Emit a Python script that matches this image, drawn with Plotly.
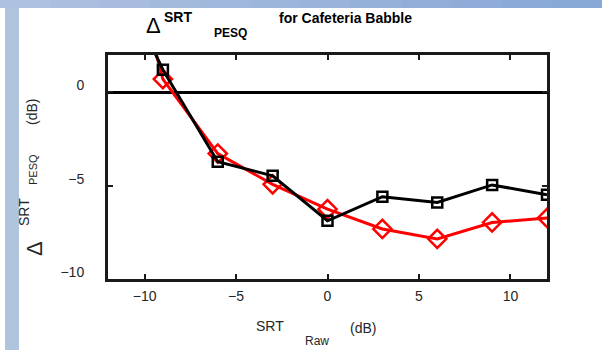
import plotly.graph_objects as go

# ---- data ----
srt_raw = [-12, -9, -6, -3, 0, 3, 6, 9, 12]
delta_black = [7.4, 1.21, -3.72, -4.47, -6.88, -5.59, -5.90, -4.96, -5.49]
delta_red = [11.8, 0.71, -3.28, -4.93, -6.26, -7.32, -7.85, -6.97, -6.73]
x_ticks = [-10, -5, 0, 5, 10]
y_ticks = [-10, -5, 0]

W, H = 602, 350
L, R, T, B = 108, 547, 55, 279  # plot area in pixels


def px(x, y):
    return (x - L) / (R - L), (B - y) / (B - T)


fig = go.Figure()
fig.add_trace(go.Scatter(
    x=srt_raw, y=delta_red, mode="lines+markers",
    line=dict(color="#ff0000", width=3),
    marker=dict(symbol="diamond-open", size=14, color="#ff0000", line=dict(width=2.5)),
    showlegend=False))
fig.add_trace(go.Scatter(
    x=srt_raw, y=delta_black, mode="lines+markers",
    line=dict(color="#000000", width=3),
    marker=dict(symbol="square-open", size=10, color="#000000", line=dict(width=2.5)),
    showlegend=False))

axis_common = dict(
    showline=True, linewidth=3, linecolor="#1a1a1a", mirror="ticks",
    ticks="inside", ticklen=5, tickwidth=2, tickcolor="#1a1a1a",
    showgrid=False,
    tickfont=dict(family="Liberation Sans, Arial", size=14, color="#262626"),
)

fig.update_xaxes(range=[-12, 12], tickvals=x_ticks, zeroline=False,
                 ticklabelstandoff=2, **axis_common)
fig.update_yaxes(range=[-10, 2], tickvals=y_ticks, zeroline=True,
                 zerolinecolor="#000000", zerolinewidth=3,
                 ticklabelstandoff=18, ticklabelshift=-7, **axis_common)

shapes = []
# decorative frame: top band gradient and left strip
n = 12
c0 = (0xae, 0xc1, 0xe0)
c1 = (0x88, 0xa8, 0xd5)
for i in range(n):
    t = i / (n - 1)
    col = "rgb(%d,%d,%d)" % tuple(int(c0[k] + (c1[k] - c0[k]) * t) for k in range(3))
    x0, _ = px(W * i / n, 0)
    x1, _ = px(W * (i + 1) / n + 1, 0)
    _, y0 = px(0, 0)
    _, y1 = px(0, 8)
    shapes.append(dict(type="rect", xref="paper", yref="paper", x0=x0, x1=x1, y0=y0, y1=y1,
                       fillcolor=col, line=dict(width=0), layer="below"))
sx0, sy0 = px(5, 8)
sx1, sy1 = px(19, H)
shapes.append(dict(type="rect", xref="paper", yref="paper", x0=sx0, x1=sx1, y0=sy1, y1=sy0,
                   fillcolor="#b0c4de", line=dict(width=0), layer="below"))

font = "Liberation Sans, Arial"
ann = []


def add_text(text, x, y, size, bold=False, angle=0, color="#000000"):
    xp, yp = px(x, y)
    ann.append(dict(text=("<b>%s</b>" % text) if bold else text, x=xp, y=yp,
                    xref="paper", yref="paper", showarrow=False,
                    xanchor="center", yanchor="middle", textangle=angle,
                    font=dict(family=font, size=size, color=color)))


# title
add_text("Δ", 153, 26, 22)
add_text("SRT", 178, 17, 14, bold=True)
add_text("PESQ", 230, 33, 12, bold=True)
add_text("for Cafeteria Babble", 345, 18, 14, bold=True)
# x title
add_text("SRT", 270, 326, 14, color="#262626")
add_text("Raw", 317, 341, 12, color="#262626")
add_text("(dB)", 363, 328, 14, color="#262626")
# y title
add_text("Δ", 34, 249, 22, angle=-90, color="#262626")
add_text("SRT", 24, 212, 14, angle=-90, color="#262626")
add_text("PESQ", 33, 170, 11, angle=-90, color="#262626")
add_text("(dB)", 32, 112, 14, angle=-90, color="#262626")

fig.update_layout(
    width=W, height=H,
    margin=dict(l=L, r=W - R, t=T, b=H - B),
    paper_bgcolor="#ffffff", plot_bgcolor="#ffffff",
    shapes=shapes, annotations=ann,
)

fig.write_html("out.html")
